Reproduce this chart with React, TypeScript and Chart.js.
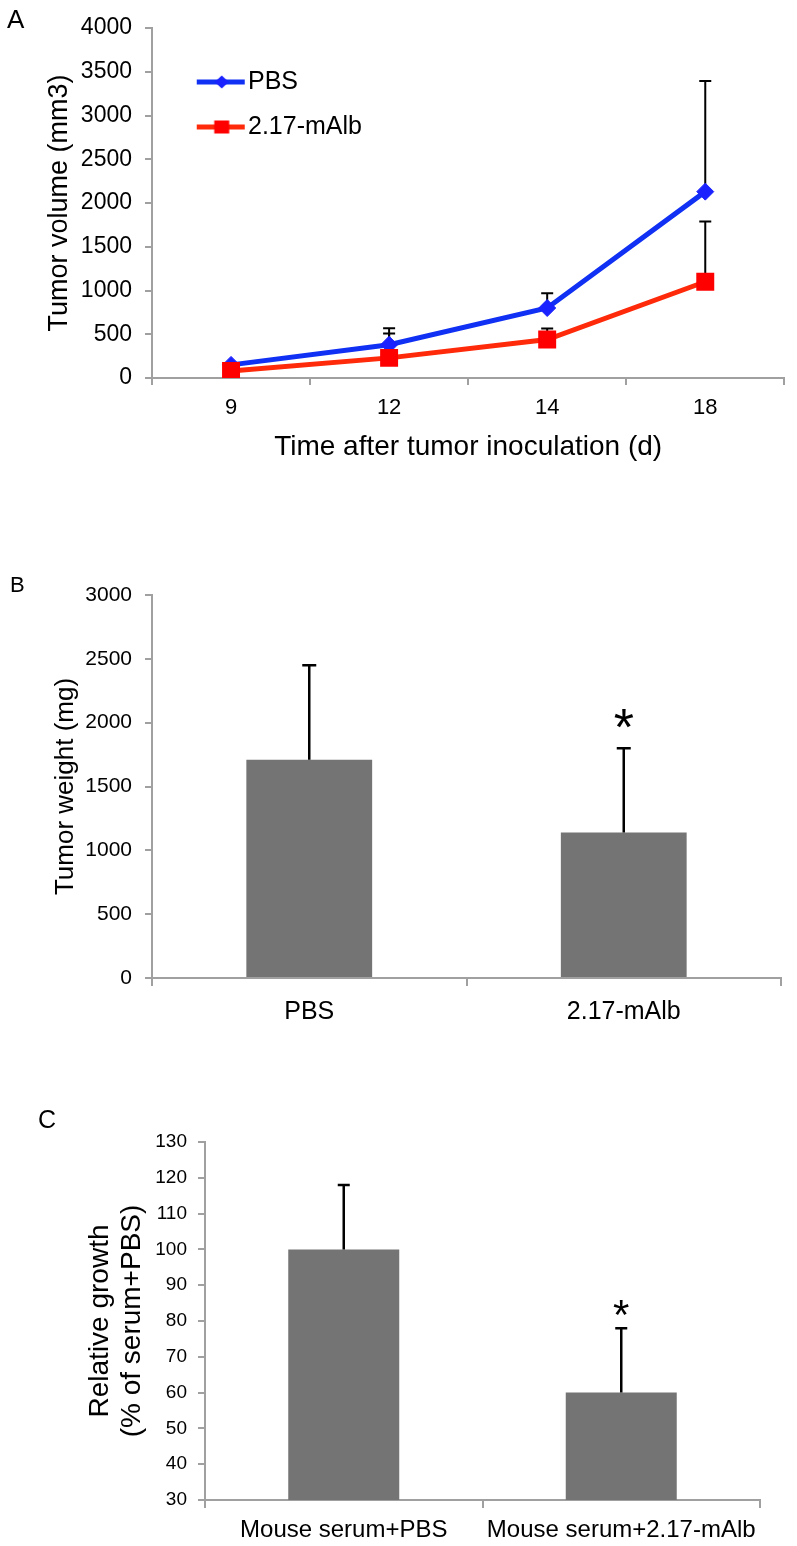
import React, { useEffect, useRef } from 'react';
import { Chart, registerables } from 'chart.js';

Chart.register(...registerables);

// ---------- Panel A: tumor volume over time ----------
const days = ['9', '12', '14', '18'];
const pbsVolume = [150, 380, 800, 2130];
const pbsVolumeErr = [20, 190, 170, 1265];
const albVolume = [80, 230, 440, 1100];
const albVolumeErr = [15, 280, 125, 690];
const volumeAxis = [0, 4000, 500]; // min, max, step

// ---------- Panel B: tumor weight ----------
const weightGroups = ['PBS', '2.17-mAlb'];
const weightMeans = [1710, 1140];
const weightErr = [740, 660];
const weightStars = ['', '*'];
const weightAxis = [0, 3000, 500];

// ---------- Panel C: relative growth ----------
const growthGroups = ['Mouse serum+PBS', 'Mouse serum+2.17-mAlb'];
const growthMeans = [100, 60];
const growthErr = [18, 18];
const growthStars = ['', '*'];
const growthAxis = [30, 130, 10];

const FONT = '"Liberation Sans", Arial, Helvetica, sans-serif';
const AXIS = '#a0a0a0';
const BAR = '#747474';
const BLUE_LINE = '#1030f4';
const BLUE_MARK = '#1a22ff';
const RED_LINE = '#ff2a0a';
const RED_MARK = '#ff0000';

Chart.defaults.font.family = FONT;
Chart.defaults.color = '#000';

function grid(tickLength: number, offset = false) {
  return {
    display: true,
    drawOnChartArea: false,
    drawTicks: true,
    tickLength,
    color: AXIS,
    lineWidth: 2,
    offset,
  };
}

function errorBars(id: string, errs: number[][], cap: number, width: number, before: boolean) {
  const draw = (chart: any) => {
    const { ctx } = chart;
    const y = chart.scales.y;
    ctx.save();
    ctx.strokeStyle = '#000';
    ctx.lineWidth = width;
    errs.forEach((arr, di) => {
      const meta = chart.getDatasetMeta(di);
      const data = chart.data.datasets[di].data as number[];
      arr.forEach((e, j) => {
        const el = meta.data[j];
        if (!el) return;
        const x = el.x;
        const y0 = y.getPixelForValue(data[j]);
        const y1 = y.getPixelForValue(data[j] + e);
        ctx.beginPath();
        ctx.moveTo(x, y0);
        ctx.lineTo(x, y1);
        ctx.moveTo(x - cap / 2, y1);
        ctx.lineTo(x + cap / 2, y1);
        ctx.stroke();
      });
    });
    ctx.restore();
  };
  return before ? { id, beforeDatasetsDraw: draw } : { id, afterDatasetsDraw: draw };
}

function starMarks(id: string, stars: string[], errs: number[], gap: number, size: number) {
  return {
    id,
    afterDatasetsDraw(chart: any) {
      const { ctx } = chart;
      const y = chart.scales.y;
      const meta = chart.getDatasetMeta(0);
      const data = chart.data.datasets[0].data as number[];
      ctx.save();
      ctx.fillStyle = '#000';
      ctx.font = `${size}px ${FONT}`;
      ctx.textAlign = 'center';
      ctx.textBaseline = 'alphabetic';
      stars.forEach((s, j) => {
        if (!s) return;
        const el = meta.data[j];
        const top = y.getPixelForValue(data[j] + errs[j]);
        const m = ctx.measureText(s);
        const cy = top - gap;
        const by = cy + (m.actualBoundingBoxAscent - m.actualBoundingBoxDescent) / 2;
        ctx.fillText(s, el.x, by);
      });
      ctx.restore();
    },
  };
}

function makeIcon(lineColor: string, markColor: string, shape: 'diamond' | 'square') {
  const c = document.createElement('canvas');
  c.width = 84;
  c.height = 20;
  const g = c.getContext('2d')!;
  g.strokeStyle = lineColor;
  g.lineWidth = 5;
  g.beginPath();
  g.moveTo(35, 10);
  g.lineTo(83, 10);
  g.stroke();
  g.fillStyle = markColor;
  const cx = 60;
  if (shape === 'diamond') {
    g.beginPath();
    g.moveTo(cx - 7, 10);
    g.lineTo(cx, 3.5);
    g.lineTo(cx + 7, 10);
    g.lineTo(cx, 16.5);
    g.closePath();
    g.fill();
  } else {
    g.fillRect(cx - 7.5, 3.5, 15, 13);
  }
  return c;
}

function useChart(ref: React.RefObject<HTMLCanvasElement | null>, build: () => any) {
  useEffect(() => {
    if (!ref.current) return;
    const chart = new Chart(ref.current, build());
    return () => chart.destroy();
  }, []);
}

function PanelA() {
  const ref = useRef<HTMLCanvasElement>(null);
  useChart(ref, () => {
    const icons = [makeIcon(BLUE_LINE, BLUE_MARK, 'diamond'), makeIcon(RED_LINE, RED_MARK, 'square')];
    return {
      type: 'line',
      data: {
        labels: days,
        datasets: [
          {
            label: 'PBS',
            data: pbsVolume,
            borderColor: BLUE_LINE,
            backgroundColor: BLUE_MARK,
            borderWidth: 5,
            pointStyle: 'rectRot',
            pointRadius: 8.5,
            pointBackgroundColor: BLUE_MARK,
            pointBorderColor: BLUE_MARK,
            pointBorderWidth: 1,
            tension: 0,
            order: 1,
          },
          {
            label: '2.17-mAlb',
            data: albVolume,
            borderColor: RED_LINE,
            backgroundColor: RED_MARK,
            borderWidth: 5,
            pointStyle: 'rect',
            pointRadius: 12.7,
            pointBackgroundColor: RED_MARK,
            pointBorderColor: RED_MARK,
            pointBorderWidth: 0,
            tension: 0,
            order: 0,
          },
        ],
      },
      options: {
        animation: false,
        responsive: false,
        events: [],
        layout: { padding: { left: 0, right: 9, top: 28, bottom: 0 } },
        plugins: {
          tooltip: { enabled: false },
          legend: {
            position: 'chartArea',
            align: 'start',
            title: { display: true, text: ' ', font: { size: 1, lineHeight: 1 }, padding: { top: 24, bottom: 24.5 } },
            labels: {
              usePointStyle: true,
              pointStyleWidth: 63.5,
              padding: 20,
              color: '#000',
              font: { size: 25 },
              generateLabels: (chart: any) =>
                chart.data.datasets.map((ds: any, i: number) => ({
                  text: ds.label,
                  pointStyle: icons[i],
                  fillStyle: ds.borderColor,
                  strokeStyle: ds.borderColor,
                  lineWidth: 0,
                  hidden: false,
                  datasetIndex: i,
                })),
            },
          },
        },
        scales: {
          x: {
            type: 'category',
            offset: true,
            grid: grid(7, true),
            border: { display: true, color: AXIS, width: 2 },
            ticks: { color: '#000', font: { size: 22 }, padding: 9.8, maxRotation: 0, autoSkip: false },
            title: {
              display: true,
              text: 'Time after tumor inoculation (d)',
              color: '#000',
              font: { size: 28, lineHeight: 1 },
              padding: { top: 0, bottom: 9 },
            },
            afterFit: (s: any) => {
              s.height = 92;
            },
          },
          y: {
            min: volumeAxis[0],
            max: volumeAxis[1],
            grid: grid(7),
            border: { display: true, color: AXIS, width: 2 },
            ticks: { stepSize: volumeAxis[2], color: '#000', font: { size: 23 }, padding: 13, callback: (v: any) => `${v}` },
            title: {
              display: true,
              text: 'Tumor volume (mm3)',
              color: '#000',
              font: { size: 27, lineHeight: 1 },
              padding: { top: 46.5, bottom: 0 },
            },
            afterFit: (s: any) => {
              s.width = 152;
            },
          },
        },
      },
      plugins: [errorBars('errA', [pbsVolumeErr, albVolumeErr], 12, 2, true)],
    };
  });
  return <canvas ref={ref} width={797} height={470} style={{ position: 'absolute', left: 0, top: 0, width: 797, height: 470 }} />;
}

function barConfig(
  groups: string[],
  means: number[],
  errs: number[],
  stars: string[],
  axis: number[],
  yTitle: string | string[],
  opts: {
    padTop: number;
    padRight: number;
    xHeight: number;
    yWidth: number;
    tickFont: number;
    tickPad: number;
    xFont: number;
    xPad: number;
    titleFont: number;
    titleLH: number;
    titlePad: number;
    cap: number;
    starGap: number;
    starSize: number;
    id: string;
  }
) {
  return {
    type: 'bar',
    data: {
      labels: groups,
      datasets: [
        {
          data: means,
          backgroundColor: BAR,
          borderWidth: 0,
          barPercentage: 0.4,
          categoryPercentage: 1,
        },
      ],
    },
    options: {
      animation: false,
      responsive: false,
      events: [],
      layout: { padding: { left: 0, right: opts.padRight, top: opts.padTop, bottom: 0 } },
      plugins: { legend: { display: false }, tooltip: { enabled: false } },
      scales: {
        x: {
          type: 'category',
          offset: true,
          grid: grid(8, true),
          border: { display: true, color: AXIS, width: 2 },
          ticks: { color: '#000', font: { size: opts.xFont }, padding: opts.xPad, maxRotation: 0, autoSkip: false },
          afterFit: (s: any) => {
            s.height = opts.xHeight;
          },
        },
        y: {
          min: axis[0],
          max: axis[1],
          beginAtZero: false,
          grid: grid(7),
          border: { display: true, color: AXIS, width: 2 },
          ticks: { stepSize: axis[2], color: '#000', font: { size: opts.tickFont }, padding: opts.tickPad, callback: (v: any) => `${v}` },
          title: {
            display: true,
            text: yTitle,
            color: '#000',
            font: { size: opts.titleFont, lineHeight: opts.titleLH },
            padding: { top: opts.titlePad, bottom: 0 },
          },
          afterFit: (s: any) => {
            s.width = opts.yWidth;
          },
        },
      },
    },
    plugins: [
      errorBars(opts.id + 'err', [errs], opts.cap, 2.5, false),
      starMarks(opts.id + 'star', stars, errs, opts.starGap, opts.starSize),
    ],
  };
}

function PanelB() {
  const ref = useRef<HTMLCanvasElement>(null);
  useChart(ref, () =>
    barConfig(weightGroups, weightMeans, weightErr, weightStars, weightAxis, 'Tumor weight (mg)', {
      padTop: 55,
      padRight: 16,
      xHeight: 82,
      yWidth: 152,
      tickFont: 21,
      tickPad: 13,
      xFont: 25,
      xPad: 11,
      titleFont: 26,
      titleLH: 1,
      titlePad: 53,
      cap: 14,
      starGap: 30,
      starSize: 52,
      id: 'b',
    })
  );
  return <canvas ref={ref} width={797} height={520} style={{ position: 'absolute', left: 0, top: 540, width: 797, height: 520 }} />;
}

function PanelC() {
  const ref = useRef<HTMLCanvasElement>(null);
  useChart(ref, () =>
    barConfig(growthGroups, growthMeans, growthErr, growthStars, growthAxis, ['Relative growth', '(% of serum+PBS)'], {
      padTop: 82,
      padRight: 37,
      xHeight: 46,
      yWidth: 205,
      tickFont: 19,
      tickPad: 11,
      xFont: 24,
      xPad: 8,
      titleFont: 28,
      titleLH: 32 / 28,
      titlePad: 84,
      cap: 12,
      starGap: 20,
      starSize: 42,
      id: 'c',
    })
  );
  return <canvas ref={ref} width={797} height={486} style={{ position: 'absolute', left: 0, top: 1060, width: 797, height: 486 }} />;
}

const letterStyle = (left: number, top: number, size: number): React.CSSProperties => ({
  position: 'absolute',
  left,
  top,
  fontFamily: FONT,
  fontSize: size,
  lineHeight: 1,
  color: '#000',
});

export default function App() {
  return (
    <div style={{ position: 'absolute', left: 0, top: 0, width: 797, height: 1546, background: '#fff', overflow: 'hidden' }}>
      <PanelA />
      <PanelB />
      <PanelC />
      <div style={letterStyle(7, 6, 26)}>A</div>
      <div style={letterStyle(10, 574, 22)}>B</div>
      <div style={letterStyle(38, 1107, 25)}>C</div>
    </div>
  );
}
